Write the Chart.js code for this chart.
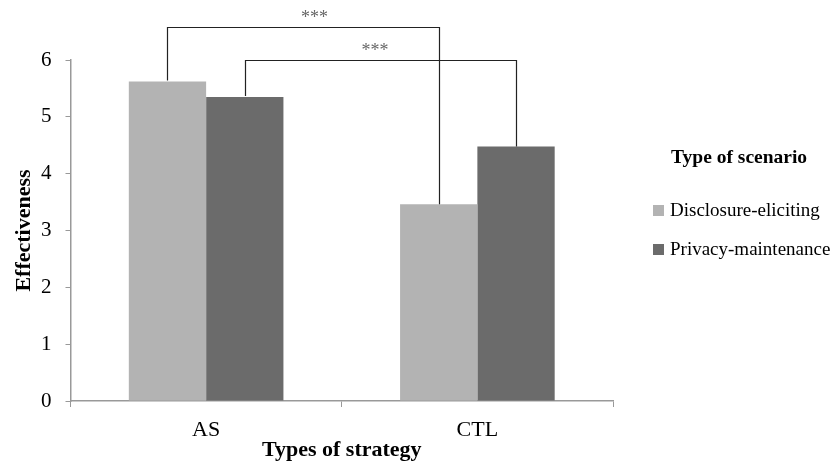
<!DOCTYPE html>
<html>
<head>
<meta charset="utf-8">
<script src="https://cdn.jsdelivr.net/npm/chart.js@4"></script>
<style>
  html, body { margin: 0; padding: 0; background: #fff; }
  #wrap { width: 837px; height: 464px; }
</style>
</head>
<body>
<div id="wrap"><canvas id="myChart" width="837" height="464"></canvas></div>
<script>
let strategies = ['AS', 'CTL'];
let scenarioLabels = ['Disclosure-eliciting', 'Privacy-maintenance'];
let disclosureValues = [5.62, 3.46];
let privacyValues = [5.35, 4.48];
let barColors = ['#b3b3b3', '#6b6b6b'];
// significance brackets: [from dataset, from category, to dataset, to category, height, label]
let brackets = [
    [0, 0, 0, 1, 6.58, '***'],
    [1, 0, 1, 1, 6.0, '***']
];

const serif = "'Liberation Serif', 'Times New Roman', serif";
const starShift = [11, -6];

let bracketPlugin = {
    id: 'brackets',
    afterDatasetsDraw(chart) {
        let c = chart.ctx;
        let y = chart.scales.y;
        c.save();
        brackets.forEach((b, i) => {
            let a = chart.getDatasetMeta(b[0]).data[b[1]];
            let e = chart.getDatasetMeta(b[2]).data[b[3]];
            let top = Math.round(y.getPixelForValue(b[4])) + 0.5;
            let x1 = Math.round(a.x) + 0.5, x2 = Math.round(e.x) + 0.5;
            c.strokeStyle = '#222';
            c.lineWidth = 1.2;
            c.beginPath();
            c.moveTo(x1, a.y - 1);
            c.lineTo(x1, top);
            c.lineTo(x2, top);
            c.lineTo(x2, e.y);
            c.stroke();
            c.fillStyle = '#666';
            c.font = '18px ' + serif;
            c.textAlign = 'center';
            c.textBaseline = 'alphabetic';
            c.fillText(b[5], (x1 + x2) / 2 + starShift[i], top - 5);
        });
        c.restore();
    }
};

let legendPlugin = {
    id: 'sideLegend',
    afterDraw(chart) {
        let c = chart.ctx;
        c.save();
        c.fillStyle = '#000';
        c.font = 'bold 19.5px ' + serif;
        c.textBaseline = 'middle';
        c.textAlign = 'left';
        c.fillText('Type of scenario', 671, 158);
        c.font = '19px ' + serif;
        chart.data.datasets.forEach((ds, i) => {
            let yy = 210 + i * 39;
            c.fillStyle = ds.backgroundColor;
            c.fillRect(653, yy - 5, 11, 11);
            c.fillStyle = '#000';
            c.fillText(ds.label, 670, yy + 1);
        });
        c.restore();
    }
};

let ctx = document.getElementById('myChart').getContext('2d');
let myChart = new Chart(ctx, {
    type: 'bar',
    data: {
        labels: strategies,
        datasets: [{
            label: scenarioLabels[0],
            data: disclosureValues,
            backgroundColor: barColors[0],
            categoryPercentage: 0.57,
            barPercentage: 1.0
        }, {
            label: scenarioLabels[1],
            data: privacyValues,
            backgroundColor: barColors[1],
            categoryPercentage: 0.57,
            barPercentage: 1.0
        }]
    },
    options: {
        responsive: false,
        animation: false,
        layout: {
            padding: { top: 60, right: 224, left: 13, bottom: 3 }
        },
        plugins: {
            legend: { display: false },
            tooltip: { enabled: false }
        },
        scales: {
            x: {
                grid: {
                    drawOnChartArea: false,
                    drawTicks: true,
                    tickLength: 6,
                    color: '#999'
                },
                border: { color: '#999', width: 1.5 },
                ticks: {
                    color: '#000',
                    padding: 12,
                    font: { family: serif, size: 22, lineHeight: 1 }
                },
                title: {
                    display: true,
                    text: 'Types of strategy',
                    color: '#000',
                    padding: { top: -14, bottom: 0 },
                    font: { family: serif, size: 22, weight: 'bold', lineHeight: 1 }
                }
            },
            y: {
                min: 0,
                max: 6,
                ticks: {
                    stepSize: 1,
                    color: '#000',
                    padding: 14,
                    font: { family: serif, size: 21, lineHeight: 1 }
                },
                grid: {
                    drawOnChartArea: false,
                    drawTicks: true,
                    tickLength: 5,
                    color: '#999'
                },
                border: { color: '#999', width: 1.5 },
                title: {
                    display: true,
                    text: 'Effectiveness',
                    color: '#000',
                    padding: { top: 0, bottom: -8 },
                    font: { family: serif, size: 22, weight: 'bold', lineHeight: 1 }
                }
            }
        }
    },
    plugins: [bracketPlugin, legendPlugin]
});
</script>
</body>
</html>
